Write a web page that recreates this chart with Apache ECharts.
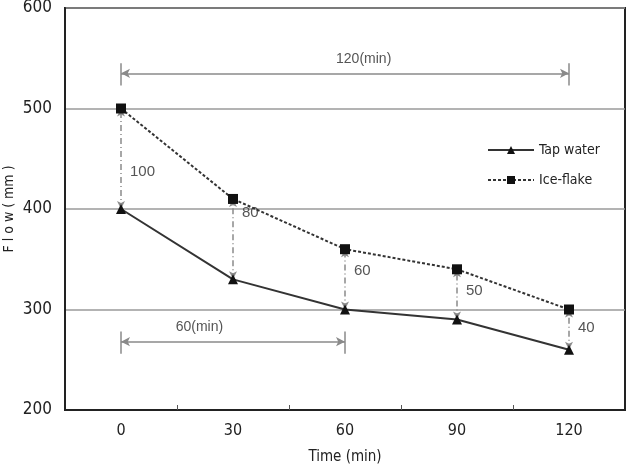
<!DOCTYPE html>
<html>
<head>
<meta charset="utf-8">
<script src="https://cdn.jsdelivr.net/npm/echarts@6/dist/echarts.min.js"></script>
<style>
  html, body { margin: 0; padding: 0; background: #fff; }
  #chart { width: 634px; height: 471px; }
</style>
</head>
<body>
<div id="chart"></div>
<script>
// values
const times = [0, 30, 60, 90, 120];
const tapWater = [400, 330, 300, 290, 260];
const iceFlake = [500, 410, 360, 340, 300];
const gapText = ['100', '80', '60', '50', '40'];
const gapLabelFlow = [437, 396, 338, 319, 282];
const spanText = ['120(min)', '60(min)'];
const spanFrom = [0, 0];
const spanTo = [120, 60];
const spanFlow = [535, 268];
const spanLabelX = [65, 21];
const spanLabelFlow = [549, 282];
const xTickAt = [15, 45, 75, 105];

const narrow = "'DejaVu Sans', sans-serif";
const plain = "'Liberation Sans', Arial, sans-serif";
const annoColor = '#8a8a8a';

const myChart = echarts.init(document.getElementById('chart'));

// vertical gap arrows
const gapLines = times.map((t, i) => [
  { coord: [t, tapWater[i]] },
  { coord: [t, iceFlake[i]] }
]);
// horizontal span arrows
const spanLines = spanText.map((s, i) => [
  { coord: [spanFrom[i], spanFlow[i]] },
  { coord: [spanTo[i], spanFlow[i]] }
]);
// end bars of span arrows
const spanBars = [];
spanText.forEach((s, i) => {
  [spanFrom[i], spanTo[i]].forEach(x => {
    spanBars.push([
      { coord: [x, spanFlow[i] + 10] },
      { coord: [x, spanFlow[i] - 12] }
    ]);
  });
});

const gapPoints = times.map((t, i) => ({
  coord: [t, gapLabelFlow[i]],
  value: gapText[i]
}));
const spanPoints = spanText.map((s, i) => ({
  coord: [spanLabelX[i], spanLabelFlow[i]],
  value: s
}));

const option = {
  animation: false,
  grid: {
    left: 65, right: 9, top: 8, bottom: 61,
    outerBoundsMode: 'none',
    containLabel: false,
    show: true, borderColor: '#222', borderWidth: 2
  },
  legend: {
    orient: 'vertical',
    left: 482, top: 138,
    itemWidth: 46, itemHeight: 10, itemGap: 16,
    textStyle: { fontFamily: narrow, fontWeight: 'condensed', fontSize: 14, color: '#222' },
    data: ['Tap water', 'Ice-flake']
  },
  xAxis: {
    type: 'value',
    min: -15, max: 135,
    name: 'Time (min)',
    nameLocation: 'middle',
    nameGap: 40,
    nameMoveOverlap: false,
    nameTextStyle: { fontFamily: narrow, fontWeight: 'condensed', fontSize: 15, color: '#222' },
    axisLine: { show: true, onZero: false, lineStyle: { color: '#222', width: 2 } },
    axisTick: { show: true, inside: true, length: 5, customValues: xTickAt,
      lineStyle: { color: '#555', width: 1 } },
    axisLabel: { customValues: times, fontFamily: narrow, fontWeight: 'condensed', fontSize: 16, color: '#222', margin: 13 },
    splitLine: { show: false }
  },
  yAxis: {
    type: 'value',
    min: 200, max: 600, interval: 100,
    name: 'F l o w ( mm )',
    nameLocation: 'middle',
    nameGap: 49,
    nameMoveOverlap: false,
    nameTextStyle: { fontFamily: narrow, fontWeight: 'condensed', fontSize: 14, color: '#222' },
    axisLine: { show: true, onZero: false, lineStyle: { color: '#222', width: 2 } },
    axisTick: { show: false },
    axisLabel: { fontFamily: narrow, fontWeight: 'condensed', fontSize: 17, color: '#222', margin: 13 },
    splitLine: { show: true, lineStyle: { color: '#9a9a9a', width: 1.5 } }
  },
  series: [
    {
      name: 'Tap water',
      type: 'line',
      data: times.map((t, i) => [t, tapWater[i]]),
      symbol: 'triangle',
      symbolSize: 10,
      itemStyle: { color: '#111' },
      lineStyle: { color: '#333', width: 2 },
      z: 5,
      markLine: {
        silent: true,
        symbol: ['arrow', 'arrow'],
        symbolSize: [6, 8],
        label: { show: false },
        lineStyle: { color: annoColor, width: 1.5, type: [6, 3, 1, 3] },
        data: gapLines,
        z: 1
      },
      markPoint: {
        silent: true,
        symbol: 'circle',
        symbolSize: 0,
        label: {
          show: true, position: 'right', distance: 9,
          fontFamily: plain, fontSize: 15, color: '#555',
          formatter: p => p.value
        },
        data: gapPoints
      }
    },
    {
      name: 'Ice-flake',
      type: 'line',
      data: times.map((t, i) => [t, iceFlake[i]]),
      symbol: 'rect',
      symbolSize: 10,
      itemStyle: { color: '#111' },
      lineStyle: { color: '#333', width: 2, type: [3, 2] },
      z: 5,
      markLine: {
        silent: true,
        symbol: ['arrow', 'arrow'],
        symbolSize: [7, 9],
        label: { show: false },
        lineStyle: { color: annoColor, width: 1.5, type: 'solid' },
        data: spanLines,
        z: 1
      },
      markPoint: {
        silent: true,
        symbol: 'circle',
        symbolSize: 0,
        label: {
          show: true, position: 'inside',
          fontFamily: plain, fontSize: 14, color: '#555',
          formatter: p => p.value
        },
        data: spanPoints
      }
    },
    {
      name: 'bars',
      type: 'line',
      data: [],
      markLine: {
        silent: true,
        symbol: 'none',
        label: { show: false },
        lineStyle: { color: annoColor, width: 1.5, type: 'solid' },
        data: spanBars
      }
    }
  ]
};
myChart.setOption(option);
</script>
</body>
</html>
